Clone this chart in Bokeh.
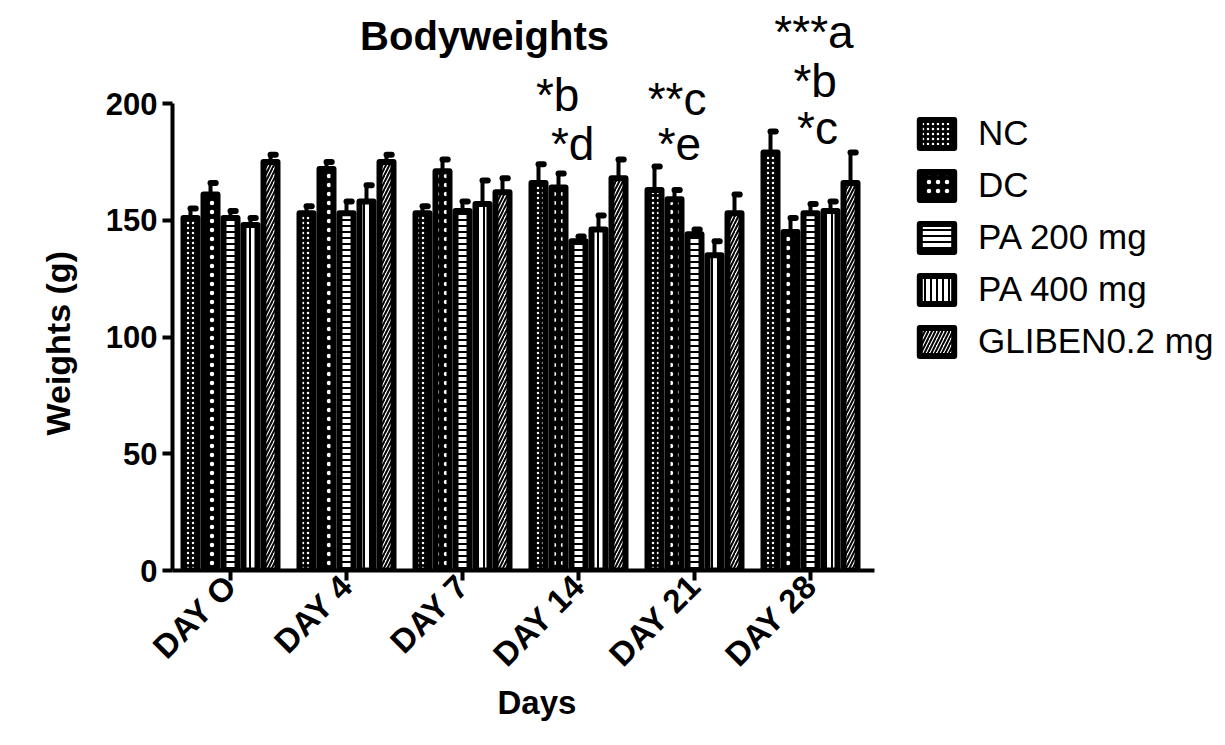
import numpy as np
from bokeh.plotting import figure
from bokeh.models import Range1d, FixedTicker, Legend, LegendItem, Label, Title
from bokeh.core.properties import value
from bokeh.embed import file_html
from bokeh.resources import INLINE

# ---------------- data ----------------
days = ["DAY O", "DAY 4", "DAY 7", "DAY 14", "DAY 21", "DAY 28"]
groups = ["NC", "DC", "PA 200 mg", "PA 400 mg", "GLIBEN0.2 mg"]

nc = [151, 153, 153, 166, 163, 179]
nc_err = [4, 3, 3, 8, 10, 9]
dc = [161, 172, 171, 164, 159, 145]
dc_err = [5, 3, 5, 6, 4, 6]
pa200 = [151, 153, 154, 141, 144, 153]
pa200_err = [3, 5, 4, 2, 2, 4]
pa400 = [148, 158, 157, 146, 135, 154]
pa400_err = [3, 7, 10, 6, 6, 4]
gliben = [175, 175, 162, 168, 153, 166]
gliben_err = [3, 3, 6, 8, 8, 13]

means = [nc, dc, pa200, pa400, gliben]
errs = [nc_err, dc_err, pa200_err, pa400_err, gliben_err]

y_ticks = [0, 50, 100, 150, 200]

# significance annotations
ann_text = ["***a", "*b", "*c", "*b", "*d", "**c", "*e"]
ann_x = [5.03, 5.04, 5.06, 2.82, 2.95, 3.85, 3.87]
ann_y = [230.5, 209.5, 189.5, 203.5, 182.5, 202.0, 182.5]

# ---------------- styles ----------------
FONT = "Liberation Sans"
styles = [
    dict(fill_color="black", hatch_color="white", hatch_pattern="dot", hatch_scale=5, hatch_weight=1),
    dict(fill_color="black", hatch_color="white", hatch_pattern="dot", hatch_scale=9, hatch_weight=1),
    dict(fill_color="white", hatch_color="black", hatch_pattern="horizontal_line", hatch_scale=6, hatch_weight=2),
    dict(fill_color="white", hatch_color="black", hatch_pattern="vertical_line", hatch_scale=6, hatch_weight=2),
    dict(fill_color="white", hatch_color="black", hatch_pattern="right_diagonal_line", hatch_scale=7, hatch_weight=2),
]

px_per_unit = 116.0
py_per_unit = 2.335
x_start = -0.5
x_end = x_start + 1053 / px_per_unit
y_end = 570 / py_per_unit

p = figure(frame_width=1053, frame_height=570, min_border_left=172, min_border_right=0,
           min_border_top=0, min_border_bottom=175,
           x_range=Range1d(x_start, x_end), y_range=Range1d(0, y_end),
           output_backend="svg", toolbar_location=None)
p.outline_line_color = None
p.xgrid.visible = False
p.ygrid.visible = False
p.background_fill_color = "white"
p.border_fill_color = "white"

xs = np.arange(len(days))
step = 20 / px_per_unit
bw = 14 / px_per_unit
items = []
for i, (m, e, st) in enumerate(zip(means, errs, styles)):
    xx = xs + (i - 2) * step
    r = p.vbar(x=xx, top=m, bottom=0, width=bw, line_color="black", line_width=6,
               line_join="round", **st)
    top = [a + b for a, b in zip(m, e)]
    p.segment(x0=xx, y0=m, x1=xx, y1=top, line_color="black", line_width=4)
    p.segment(x0=xx, y0=top, x1=xx + 0.045, y1=top, line_color="black", line_width=6,
              line_cap="round")
    items.append(LegendItem(label=groups[i], renderers=[r]))

# annotations
p.text(x=ann_x, y=ann_y, text=ann_text, text_font=value(FONT), text_font_size="46px",
       text_align="center", text_baseline="alphabetic", text_color="black")

title = Label(x=2.19, y=229.0, text="Bodyweights", text_font=FONT, text_font_size="40px",
              text_font_style="bold", text_align="center", text_baseline="alphabetic",
              text_color="black")
p.add_layout(title)

# axes
p.xaxis.ticker = FixedTicker(ticks=list(range(len(days))))
p.xaxis.major_label_overrides = {i: d for i, d in enumerate(days)}
p.xaxis.major_label_orientation = np.pi / 4
p.xaxis.bounds = (x_start, 5.55)
p.yaxis.ticker = FixedTicker(ticks=y_ticks)
p.yaxis.bounds = (0, 200)
for ax in (p.xaxis[0], p.yaxis[0]):
    ax.axis_line_width = 4
    ax.major_tick_line_width = 4
    ax.major_tick_out = 10
    ax.major_tick_in = 0
    ax.minor_tick_line_color = None
    ax.major_label_text_font = FONT
    ax.major_label_text_font_style = "bold"
    ax.major_label_text_color = "black"
p.xaxis.major_label_text_font_size = "33px"
p.yaxis.major_label_text_font_size = "31px"
p.yaxis.major_label_standoff = 5
p.xaxis.major_label_standoff = 0

ytitle = Title(text="Weights (g)", align="left", offset=135, standoff=48, vertical_align="top",
               text_font=FONT, text_font_size="34px", text_font_style="bold", text_color="black")
p.add_layout(ytitle, "left")
xtitle = Title(text="Days", align="left", offset=325, standoff=-16,
               text_font=FONT, text_font_size="33px", text_font_style="bold", text_color="black")
p.add_layout(xtitle, "below")

legend = Legend(items=items, location=(743, 209), padding=0, margin=0, spacing=12,
                glyph_width=43, glyph_height=35, label_height=35, label_standoff=20,
                label_text_font=FONT, label_text_font_size="35px", label_text_color="black",
                border_line_color=None, background_fill_alpha=0)
p.add_layout(legend)

open("out.html", "w").write(file_html(p, INLINE))
